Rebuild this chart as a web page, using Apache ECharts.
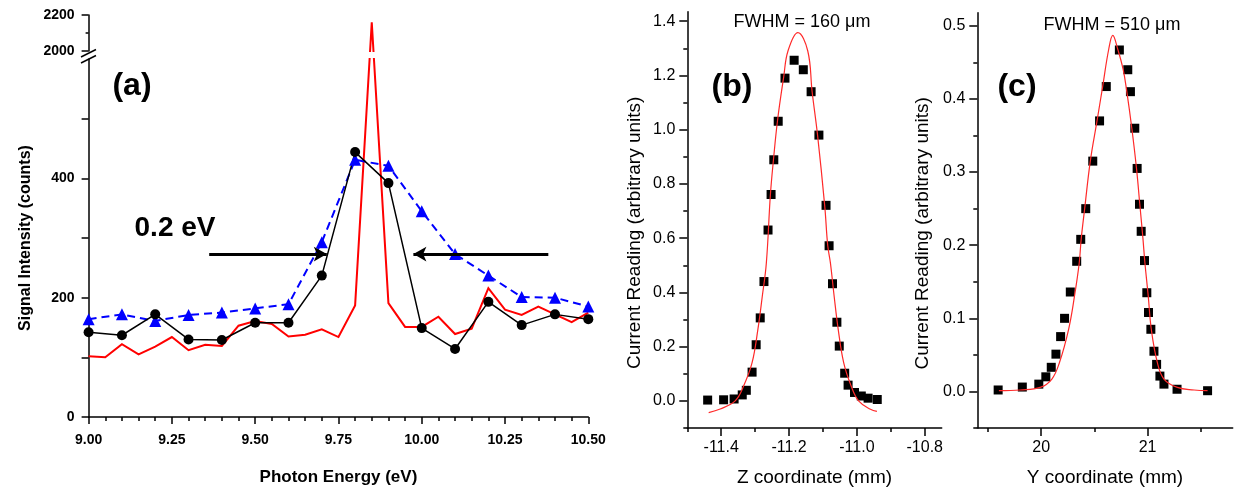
<!DOCTYPE html>
<html>
<head>
<meta charset="utf-8">
<script src="https://cdn.jsdelivr.net/npm/echarts@6/dist/echarts.min.js"></script>
<style>
  html, body { margin: 0; padding: 0; background: #fff; }
  #chart { width: 1238px; height: 492px; }
</style>
</head>
<body>
<div id="chart"></div>
<script>
// panel (a): photon energy scan
const energies = [9.0, 9.1, 9.2, 9.3, 9.4, 9.5, 9.6, 9.7, 9.8, 9.9, 10.0, 10.1, 10.2, 10.3, 10.4, 10.5];
const blackCounts = [142, 137, 172, 130, 129, 158, 158, 237, 444, 392, 149, 114, 193, 154, 172, 164];
const blueCounts = [164, 172, 161, 171, 175, 182, 189, 293, 431, 421, 345, 273, 237, 201, 200, 185];
const redEnergies = [9.0, 9.05, 9.1, 9.15, 9.2, 9.25, 9.3, 9.35, 9.4, 9.45, 9.5, 9.55, 9.6, 9.65, 9.7, 9.75,
  9.8, 9.85, 9.9, 9.95, 10.0, 10.05, 10.1, 10.15, 10.2, 10.25, 10.3, 10.35, 10.4, 10.45, 10.5];
const redCounts = [102, 100, 122, 105, 118, 134, 112, 121, 119, 153, 161, 156, 135, 138, 147, 134,
  187, 2160, 191, 151, 151, 168, 139, 148, 216, 180, 171, 185, 172, 159, 175];
const arrowLeft = [[9.362, 273], [9.715, 273]];
const arrowRight = [[10.38, 273], [9.975, 273]];
const breakLow = 600;   // top of lower segment
const breakHigh = 2000; // bottom of upper segment

// panel (b): Z scan
const zPos = [-11.440, -11.393, -11.362, -11.338, -11.326, -11.309, -11.297, -11.285, -11.274, -11.262,
  -11.253, -11.245, -11.232, -11.212, -11.185, -11.158, -11.135, -11.112, -11.091, -11.082,
  -11.072, -11.059, -11.052, -11.036, -11.026, -11.007, -10.987, -10.967, -10.940];
const zReading = [0.003, 0.004, 0.007, 0.022, 0.039, 0.106, 0.207, 0.306, 0.440, 0.630,
  0.761, 0.889, 1.031, 1.190, 1.256, 1.221, 1.140, 0.980, 0.721, 0.572,
  0.432, 0.290, 0.202, 0.102, 0.058, 0.031, 0.018, 0.010, 0.005];
const zFitX = [-11.437, -11.403, -11.359, -11.334, -11.309, -11.292, -11.279, -11.267, -11.255, -11.246,
  -11.234, -11.216, -11.203, -11.174, -11.145, -11.132, -11.116, -11.095, -11.086, -11.078,
  -11.067, -11.055, -11.039, -11.017, -10.995, -10.960, -10.941];
const zFitY = [-0.043, -0.030, 0.000, 0.055, 0.141, 0.263, 0.385, 0.508, 0.761, 0.889,
  1.034, 1.193, 1.291, 1.358, 1.291, 1.140, 0.980, 0.721, 0.573, 0.508,
  0.385, 0.263, 0.141, 0.055, 0.000, -0.031, -0.039];

// panel (c): Y scan
const yPos = [19.596, 19.823, 19.978, 20.044, 20.095, 20.139, 20.183, 20.220, 20.274, 20.334,
  20.372, 20.419, 20.485, 20.549, 20.612, 20.735, 20.814, 20.839, 20.880, 20.902,
  20.924, 20.940, 20.971, 20.993, 21.009, 21.031, 21.060, 21.085, 21.116, 21.154, 21.277, 21.564];
const yReading = [0.002, 0.006, 0.010, 0.020, 0.033, 0.051, 0.075, 0.100, 0.136, 0.178,
  0.208, 0.250, 0.315, 0.370, 0.417, 0.467, 0.440, 0.410, 0.360, 0.305,
  0.256, 0.219, 0.179, 0.135, 0.108, 0.085, 0.055, 0.037, 0.021, 0.010, 0.003, 0.001];
const yFitX = [19.603, 19.802, 19.991, 20.101, 20.173, 20.258, 20.314, 20.358, 20.376, 20.409,
  20.462, 20.525, 20.578, 20.635, 20.673, 20.720, 20.771, 20.805, 20.852, 20.896,
  20.927, 20.956, 20.975, 21.006, 21.035, 21.091, 21.154, 21.280, 21.437, 21.564];
const yFitY = [0.001, 0.002, 0.0055, 0.017, 0.040, 0.085, 0.131, 0.176, 0.208, 0.250,
  0.315, 0.370, 0.417, 0.468, 0.487, 0.468, 0.440, 0.410, 0.360, 0.305,
  0.256, 0.210, 0.176, 0.131, 0.085, 0.040, 0.017, 0.0055, 0.002, 0.001];

// tick labels
const aLowTicks = [0, 100, 200, 300, 400, 500];
const aLowLabels = [0, 200, 400];
const bXMajor = [-11.4, -11.2, -11.0, -10.8];
const bXMinor = [-11.5, -11.3, -11.1, -10.9];
const bYMajor = [0, 0.2, 0.4, 0.6, 0.8, 1.0, 1.2, 1.4];
const bYMinor = [-0.1, 0.1, 0.3, 0.5, 0.7, 0.9, 1.1, 1.3];
const cXMajor = [20, 21];
const cXMinor = [19.5, 20.5, 21.5];
const cYMajor = [0, 0.1, 0.2, 0.3, 0.4, 0.5];
const cYMinor = [-0.05, 0.05, 0.15, 0.25, 0.35, 0.45];

const zip = (xs, ys) => xs.map((x, i) => [x, ys[i]]);
const FONT = '"Liberation Sans", Arial, sans-serif';
const AXIS_LINE = { show: true, onZero: false, lineStyle: { color: '#000', width: 1.5 } };

const chart = echarts.init(document.getElementById('chart'), null, { renderer: 'canvas' });

function majorX(grid, min, max, ticks, name, fmt) {
  return {
    type: 'value', gridIndex: grid, min, max, position: 'bottom',
    axisLine: AXIS_LINE,
    axisTick: { customValues: ticks, length: 8, lineStyle: { color: '#000', width: 1.5 } },
    axisLabel: { customValues: ticks, formatter: fmt, color: '#000', fontSize: 16, fontFamily: FONT, margin: 12 },
    splitLine: { show: false },
    name, nameLocation: 'middle', nameGap: 40,
    nameTextStyle: { color: '#000', fontSize: 19, fontFamily: FONT }
  };
}
function minorAxis(grid, min, max, ticks, position) {
  return {
    type: 'value', gridIndex: grid, min, max, position,
    axisLine: { show: false, onZero: false },
    axisTick: { customValues: ticks, length: 4, lineStyle: { color: '#000', width: 1.5 } },
    axisLabel: { show: false },
    splitLine: { show: false }
  };
}
function majorY(grid, min, max, ticks, name, gap) {
  return {
    type: 'value', gridIndex: grid, min, max, position: 'left',
    axisLine: AXIS_LINE,
    axisTick: { customValues: ticks, length: 8, lineStyle: { color: '#000', width: 1.5 } },
    axisLabel: { customValues: ticks, formatter: v => v.toFixed(1), color: '#000', fontSize: 16, fontFamily: FONT, margin: 12 },
    splitLine: { show: false },
    name, nameLocation: 'middle', nameGap: gap, nameRotate: 90,
    nameTextStyle: { color: '#000', fontSize: 19, fontFamily: FONT, padding: [0, 26, 0, 0] }
  };
}

// red trace crosses the axis break: points above the break go through the upper grid's scale
function renderRedTrace(params, api) {
  if (params.dataIndex !== 0) return null;
  const points = redEnergies.map((x, i) => redCounts[i] >= breakHigh
    ? chart.convertToPixel({ xAxisIndex: 1, yAxisIndex: 1 }, [x, redCounts[i]])
    : api.coord([x, redCounts[i]]));
  return {
    type: 'polyline',
    shape: { points },
    style: { stroke: '#ff0000', lineWidth: 2, fill: null }
  };
}

const option = {
  animation: false,
  backgroundColor: '#fff',
  grid: [
    { left: 88.6, top: 59, width: 499.7, height: 358 },
    { left: 88.6, top: 15, width: 499.7, height: 36 },
    { left: 687.3, top: 11.7, width: 254.4, height: 417.3 },
    { left: 977.3, top: 12.7, width: 255.4, height: 415.8 }
  ],
  xAxis: [
    {
      type: 'value', gridIndex: 0, min: 9, max: 10.5, interval: 0.25,
      axisLine: AXIS_LINE,
      axisTick: { length: 7, lineStyle: { color: '#000', width: 1.5 } },
      minorTick: { show: true, splitNumber: 5, length: 4, lineStyle: { color: '#000', width: 1.5 } },
      axisLabel: { formatter: v => v.toFixed(2), color: '#000', fontSize: 14, fontWeight: 'bold', fontFamily: FONT, margin: 16 },
      splitLine: { show: false },
      name: 'Photon Energy (eV)', nameLocation: 'middle', nameGap: 52,
      nameTextStyle: { color: '#000', fontSize: 17, fontWeight: 'bold', fontFamily: FONT }
    },
    { type: 'value', gridIndex: 1, min: 9, max: 10.5, show: false },
    majorX(2, -11.5, -10.75, bXMajor, 'Z coordinate (mm)', v => v.toFixed(1)),
    minorAxis(2, -11.5, -10.75, bXMinor, 'bottom'),
    majorX(3, 19.4, 21.8, cXMajor, 'Y coordinate (mm)', v => String(v)),
    minorAxis(3, 19.4, 21.8, cXMinor, 'bottom')
  ],
  yAxis: [
    {
      type: 'value', gridIndex: 0, min: 0, max: breakLow,
      axisLine: AXIS_LINE,
      axisTick: { customValues: aLowTicks, length: 7, lineStyle: { color: '#000', width: 1.5 } },
      axisLabel: { customValues: aLowLabels, color: '#000', fontSize: 14, fontWeight: 'bold', fontFamily: FONT, margin: 14 },
      splitLine: { show: false },
      name: 'Signal Intensity (counts)', nameLocation: 'middle', nameGap: 55, nameRotate: 90,
      nameTextStyle: { color: '#000', fontSize: 16, fontWeight: 'bold', fontFamily: FONT }
    },
    {
      type: 'value', gridIndex: 1, min: breakHigh, max: 2200, interval: 200,
      axisLine: AXIS_LINE,
      axisTick: { length: 7, lineStyle: { color: '#000', width: 1.5 } },
      minorTick: { show: true, splitNumber: 2, length: 3, lineStyle: { color: '#000', width: 1.5 } },
      axisLabel: { formatter: v => String(v), color: '#000', fontSize: 14, fontWeight: 'bold', fontFamily: FONT, margin: 14 },
      splitLine: { show: false }
    },
    majorY(2, -0.1, 1.435, bYMajor, 'Current Reading (arbitrary units)', 43),
    minorAxis(2, -0.1, 1.435, bYMinor, 'left'),
    majorY(3, -0.05, 0.518, cYMajor, 'Current Reading (arbitrary units)', 45),
    minorAxis(3, -0.05, 0.518, cYMinor, 'left')
  ],
  series: [
    {
      type: 'line', xAxisIndex: 0, yAxisIndex: 0,
      data: zip(energies, blueCounts),
      symbol: 'triangle', symbolSize: 12,
      itemStyle: { color: '#0000ff' },
      lineStyle: { color: '#0000ff', width: 2, type: [8, 5] }
    },
    {
      type: 'custom', xAxisIndex: 0, yAxisIndex: 0, clip: false,
      data: zip(redEnergies, redCounts),
      renderItem: renderRedTrace
    },
    {
      type: 'line', xAxisIndex: 0, yAxisIndex: 0,
      data: zip(energies, blackCounts),
      symbol: 'circle', symbolSize: 10,
      itemStyle: { color: '#000' },
      lineStyle: { color: '#000', width: 1.5 },
      markLine: {
        silent: true,
        symbol: ['none', 'arrow'], symbolSize: [11, 13],
        lineStyle: { color: '#000', width: 3, type: 'solid' },
        label: { show: false },
        data: [
          [{ coord: arrowLeft[0] }, { coord: arrowLeft[1] }],
          [{ coord: arrowRight[0] }, { coord: arrowRight[1] }]
        ]
      }
    },
    {
      type: 'line', xAxisIndex: 2, yAxisIndex: 2,
      data: zip(zFitX, zFitY), smooth: 0.4, symbol: 'none',
      lineStyle: { color: '#ff2a2a', width: 1.2 }
    },
    {
      type: 'scatter', xAxisIndex: 2, yAxisIndex: 2,
      data: zip(zPos, zReading), symbol: 'rect', symbolSize: 9,
      itemStyle: { color: '#000', opacity: 1 }
    },
    {
      type: 'line', xAxisIndex: 4, yAxisIndex: 4,
      data: zip(yFitX, yFitY), smooth: 0.4, symbol: 'none',
      lineStyle: { color: '#ff2a2a', width: 1.2 }
    },
    {
      type: 'scatter', xAxisIndex: 4, yAxisIndex: 4,
      data: zip(yPos, yReading), symbol: 'rect', symbolSize: 9,
      itemStyle: { color: '#000', opacity: 1 }
    }
  ],
  graphic: [
    // white band for the axis break, then the break marks
    { type: 'rect', z: 100, shape: { x: 89.5, y: 52, width: 499, height: 6 }, style: { fill: '#fff' } },
    { type: 'line', z: 101, shape: { x1: 81, y1: 57, x2: 96, y2: 49.5 }, style: { stroke: '#000', lineWidth: 1.5 } },
    { type: 'line', z: 101, shape: { x1: 81, y1: 63, x2: 96, y2: 55.5 }, style: { stroke: '#000', lineWidth: 1.5 } },
    { type: 'text', x: 132, y: 86, style: { text: '(a)', font: 'bold 32px ' + FONT, fill: '#000', textAlign: 'center', textVerticalAlign: 'middle' } },
    { type: 'text', x: 175, y: 228, style: { text: '0.2 eV', font: 'bold 28px ' + FONT, fill: '#000', textAlign: 'center', textVerticalAlign: 'middle' } },
    { type: 'text', x: 732, y: 87, style: { text: '(b)', font: 'bold 32px ' + FONT, fill: '#000', textAlign: 'center', textVerticalAlign: 'middle' } },
    { type: 'text', x: 1017, y: 87, style: { text: '(c)', font: 'bold 32px ' + FONT, fill: '#000', textAlign: 'center', textVerticalAlign: 'middle' } },
    { type: 'text', x: 802, y: 22, style: { text: 'FWHM = 160 \u03bcm', font: '18px ' + FONT, fill: '#000', textAlign: 'center', textVerticalAlign: 'middle' } },
    { type: 'text', x: 1112, y: 25, style: { text: 'FWHM = 510 \u03bcm', font: '18px ' + FONT, fill: '#000', textAlign: 'center', textVerticalAlign: 'middle' } }
  ]
};

chart.setOption(option);
window.addEventListener('resize', () => chart.resize());
</script>
</body>
</html>
